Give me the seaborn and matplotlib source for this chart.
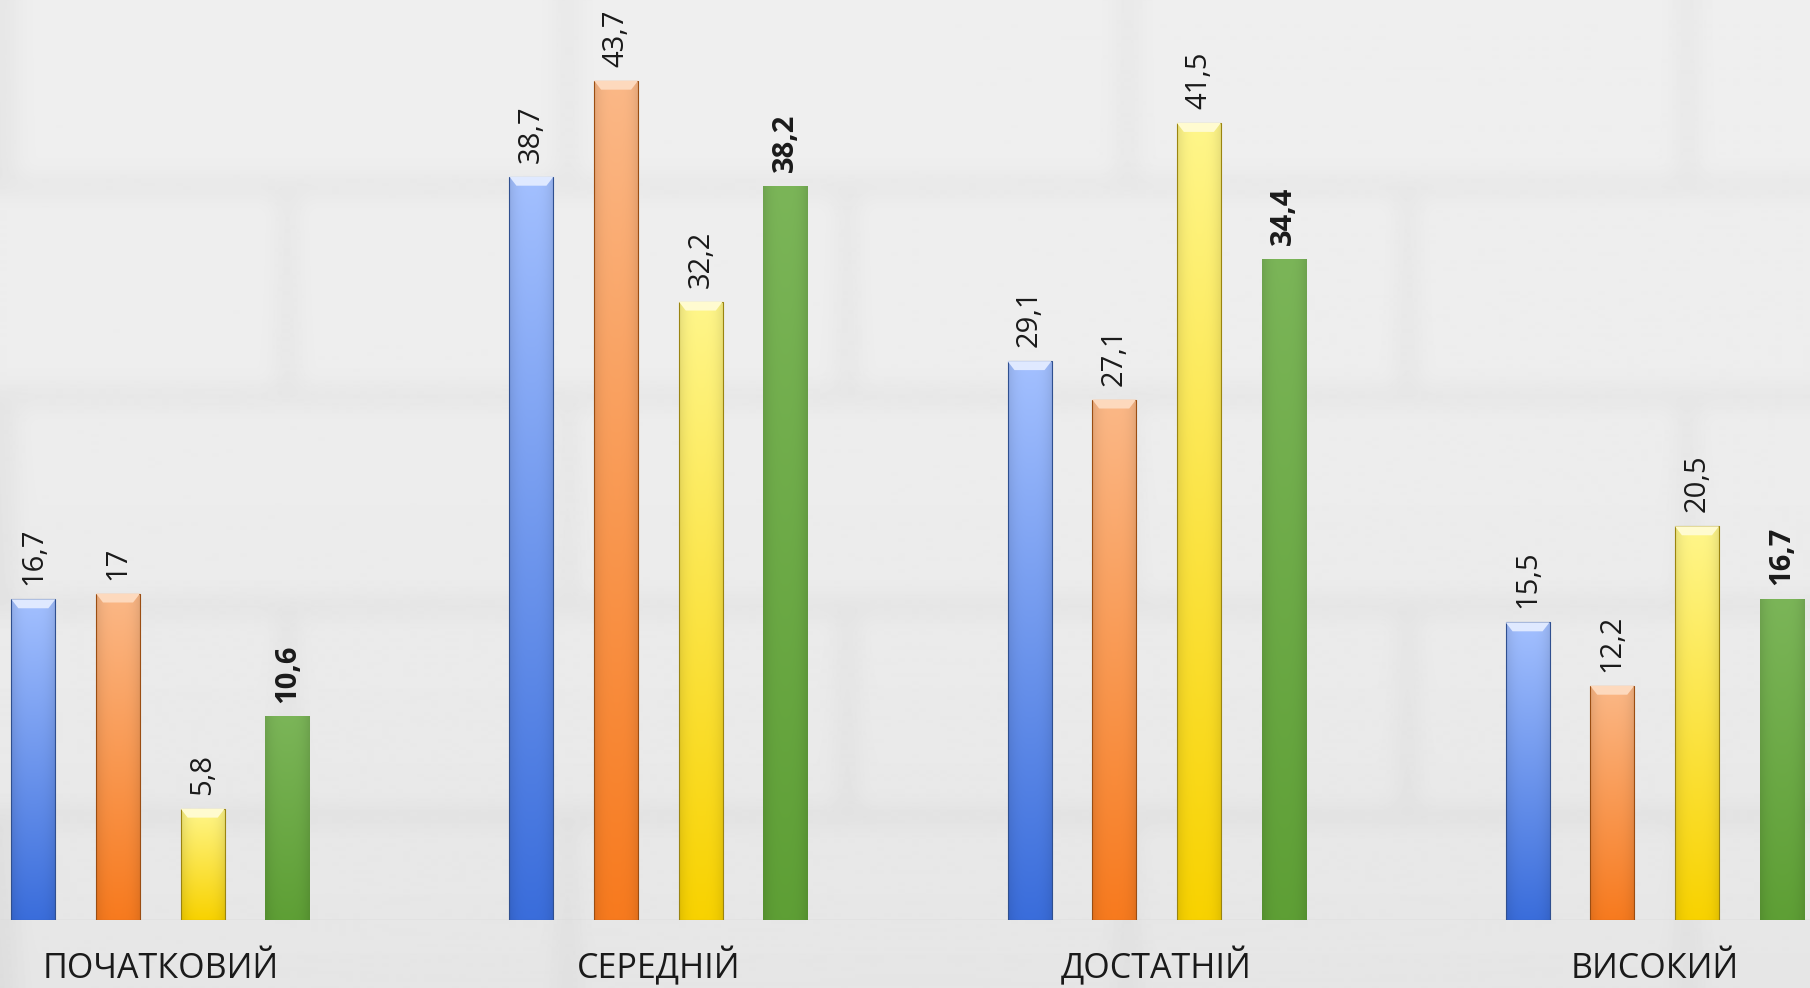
import matplotlib.pyplot as plt
import seaborn as sns
import pandas as pd
import numpy as np

sns.set_theme(style="white")
plt.rcParams['font.family'] = ['Open Sans', 'DejaVu Sans']

# дані
рівні = ["ПОЧАТКОВИЙ", "СЕРЕДНІЙ", "ДОСТАТНІЙ", "ВИСОКИЙ"]
ряди = ["Ряд 1", "Ряд 2", "Ряд 3", "Ряд 4"]
ряд1 = [16.7, 38.7, 29.1, 15.5]
ряд2 = [17, 43.7, 27.1, 12.2]
ряд3 = [5.8, 32.2, 41.5, 20.5]
ряд4 = [10.6, 38.2, 34.4, 16.7]
значення = [ряд1, ряд2, ряд3, ряд4]

df = pd.DataFrame({
    "рівень": рівні * 4,
    "ряд": [r for r in ряди for _ in рівні],
    "відсоток": ряд1 + ряд2 + ряд3 + ряд4,
})

# кольори: верх / низ градієнта, фаска, контур
верх = ["#a3c0ff", "#fbb887", "#fff68a", "#7bb558"]
низ = ["#3a6ddb", "#f77a1e", "#f8d200", "#5e9f35"]
фаска = ["#dfe9ff", "#fdd9bd", "#fffbd0", None]
контур = ["#2f4f8f", "#9a4d12", "#9a8410", "#5e9f35"]

fig = plt.figure(figsize=(18.1, 9.88), dpi=100)

# фон — світла цегляна стіна
H, W = 988, 1810
yy, xx = np.mgrid[0:H, 0:W]
base = 0.935 - 0.035 * (yy / H) ** 2
row = (yy + 30) // 210
off = (row % 2) * 280
mortar = (((yy + 30) % 210) < 16) | (((xx + off) % 560) < 16)
tex = base - 0.035 * mortar


def box_blur(a, k):
    c = np.cumsum(np.pad(a, ((k, k), (0, 0)), mode="edge"), axis=0)
    a = (c[2 * k:] - c[:-2 * k]) / (2 * k)
    c = np.cumsum(np.pad(a, ((0, 0), (k, k)), mode="edge"), axis=1)
    return (c[:, 2 * k:] - c[:, :-2 * k]) / (2 * k)


tex = box_blur(box_blur(tex, 12), 12)[:H, :W]
bg = fig.add_axes([0, 0, 1, 1])
bg.imshow(tex, cmap="gray", vmin=0, vmax=1, aspect="auto", extent=[0, 1, 0, 1])
bg.axis("off")

ax = fig.add_axes([0, 0.0688, 1, 0.9312])
ax.patch.set_alpha(0)

sns.barplot(data=df, x="рівень", y="відсоток", hue="ряд", order=рівні,
            hue_order=ряди, palette=низ, width=0.68, gap=0.48,
            saturation=1, errorbar=None, legend=False, ax=ax)

ymax = 47.9
px_y = ymax / 920.0          # одиниць даних на піксель по y
px_x = 3.634 / 1810.0        # одиниць даних на піксель по x

for i, cont in enumerate(ax.containers):
    top = np.array([int(верх[i][k:k + 2], 16) for k in (1, 3, 5)]) / 255
    bot = np.array([int(низ[i][k:k + 2], 16) for k in (1, 3, 5)]) / 255
    for bar, v in zip(cont, значення[i]):
        x0, w, h = bar.get_x(), bar.get_width(), bar.get_height()
        tv = np.linspace(1, 0, 200)[:, None, None]
        u = np.linspace(0, 1, 40)[None, :, None]
        shade = 1 - 0.10 * (np.abs(u - 0.5) * 2) ** 3
        img = (bot + (top - bot) * tv) * shade
        im = ax.imshow(np.clip(img, 0, 1), extent=[x0, x0 + w, 0, h],
                       aspect="auto", interpolation="bilinear", zorder=2)
        im.set_clip_path(bar)
        bar.set_facecolor("none")
        bar.set_edgecolor(контур[i])
        bar.set_linewidth(0.8 if i < 3 else 0)
        bar.set_zorder(3)
        if фаска[i]:
            d = 9 * px_y
            b = 7 * px_x
            ax.fill([x0, x0 + w, x0 + w - b, x0 + b],
                    [h, h, h - d, h - d], color=фаска[i], lw=0, zorder=4)
        текст = f"{v:g}".replace(".", ",")
        ax.annotate(текст, xy=(x0 + w / 2, h), xytext=(0, 10),
                    textcoords="offset points", rotation=90,
                    ha="center", va="bottom", fontsize=21,
                    color="#1a1a1a",
                    fontweight="bold" if i == 3 else "normal")

ax.axhline(0, color="#d2d2d2", lw=1, zorder=1)
ax.set_xlim(-0.322, 3.312)
ax.set_ylim(0, ymax)
ax.set_yticks([])
ax.set_xticks(range(len(рівні)))
ax.set_xticklabels(рівні, fontsize=24.5, color="#1a1a1a", va="baseline")
ax.tick_params(axis="x", length=0, pad=42)
ax.set_xlabel("")
ax.set_ylabel("")
sns.despine(ax=ax, left=True, bottom=True)

plt.savefig("out.png", dpi=100)
